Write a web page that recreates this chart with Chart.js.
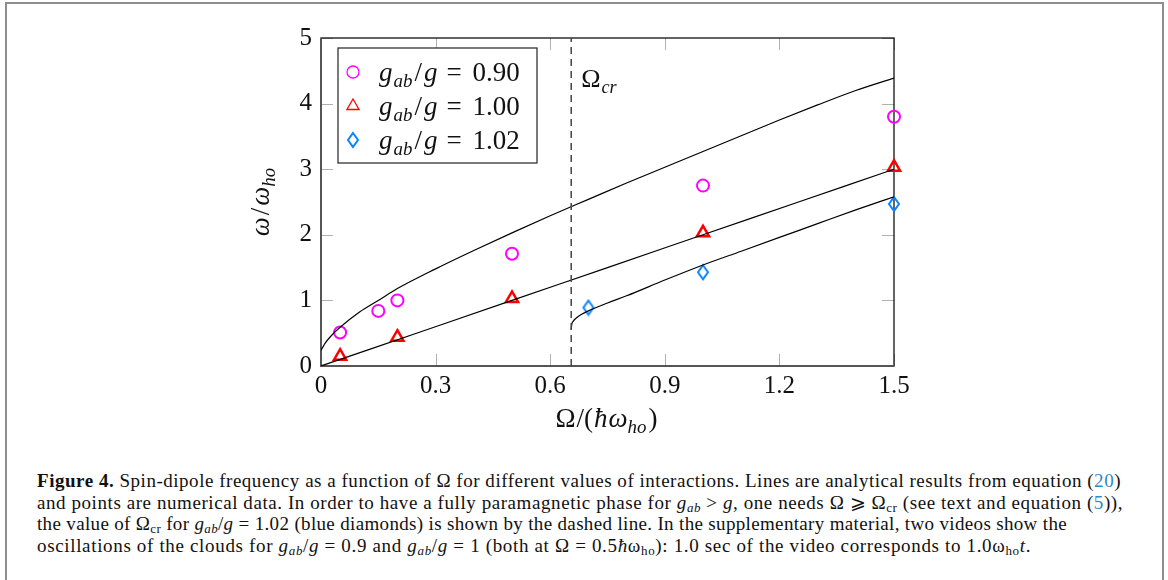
<!DOCTYPE html>
<html>
<head>
<meta charset="utf-8">
<script src="https://cdn.jsdelivr.net/npm/chart.js@4.4.1/dist/chart.umd.min.js"></script>
<style>
  html, body { margin: 0; padding: 0; background: #fff; }
  body { width: 1168px; height: 580px; position: relative; overflow: hidden; }
  #marco { position: absolute; left: 5px; top: 2px; width: 1155px; height: 600px; border: 2px solid #8e8e8e; border-bottom: none; }
  #grafico { position: absolute; left: 200px; top: 0; width: 720px; height: 450px; }
  #pie { position: absolute; left: 37px; top: 470px; font-family: "Liberation Serif", serif; font-size: 19px; color: #111; }
  #pie div { white-space: nowrap; height: 21.6px; line-height: 21.6px; }
  #pie span.linea { display: inline-block; }
  #pie .ref { color: #2a8bc7; }
  #pie i { font-style: italic; }
  #pie sub { font-size: 13px; vertical-align: -3px; line-height: 0; }
</style>
</head>
<body>
<div id="marco"></div>
<canvas id="grafico" width="720" height="450"></canvas>
<div id="pie">
  <div><span class="linea"><b>Figure 4.</b> Spin-dipole frequency as a function of Ω for different values of interactions. Lines are analytical results from equation (<span class="ref">20</span>)</span></div>
  <div><span class="linea">and points are numerical data. In order to have a fully paramagnetic phase for <i>g</i><sub><i>ab</i></sub> &gt; <i>g</i>, one needs Ω ⩾ Ω<sub>cr</sub> (see text and equation (<span class="ref">5</span>)),</span></div>
  <div><span class="linea">the value of Ω<sub>cr</sub> for <i>g</i><sub><i>ab</i></sub>/<i>g</i> = 1.02 (blue diamonds) is shown by the dashed line. In the supplementary material, two videos show the</span></div>
  <div><span class="linea">oscillations of the clouds for <i>g</i><sub><i>ab</i></sub>/<i>g</i> = 0.9 and <i>g</i><sub><i>ab</i></sub>/<i>g</i> = 1 (both at Ω = 0.5<i>ħ</i>ω<sub>ho</sub>): 1.0 sec of the video corresponds to 1.0ω<sub>ho</sub><i>t</i>.</span></div>
</div>
<script>
// ticks de los ejes
const ticksX = [0, 0.3, 0.6, 0.9, 1.2, 1.5];
const ticksY = [0, 1, 2, 3, 4, 5];

// curvas analiticas (leidas punto a punto)
const curvaX090 = [0, 0.005, 0.01, 0.025, 0.05, 0.1, 0.15, 0.2, 0.3, 0.4, 0.5, 0.6, 0.7, 0.8, 0.9, 1.0, 1.1, 1.2, 1.3, 1.4, 1.5];
const curvaY090 = [0.24, 0.29, 0.34, 0.45, 0.59, 0.82, 1.0, 1.18, 1.48, 1.76, 2.03, 2.29, 2.54, 2.79, 3.03, 3.27, 3.51, 3.75, 3.98, 4.2, 4.39];
const curvaX100 = [0, 0.25, 0.5, 0.75, 1.0, 1.25, 1.5];
const curvaY100 = [0, 0.5, 1.0, 1.5, 2.0, 2.5, 3.0];
const curvaX102 = [0.655, 0.656, 0.66, 0.67, 0.68, 0.7, 0.75, 0.8, 0.9, 1.0, 1.1, 1.2, 1.3, 1.4, 1.5];
const curvaY102 = [0.55, 0.62, 0.68, 0.74, 0.78, 0.84, 0.96, 1.07, 1.31, 1.54, 1.75, 1.96, 2.17, 2.38, 2.58];

// datos numericos
const omega090 = [0.05, 0.15, 0.2, 0.5, 1.0, 1.5];
const w090 = [0.51, 0.84, 1.0, 1.71, 2.75, 3.80];
const omega100 = [0.05, 0.2, 0.5, 1.0, 1.5];
const w100 = [0.15, 0.44, 1.03, 2.03, 3.03];
const omega102 = [0.7, 1.0, 1.5];
const w102 = [0.89, 1.43, 2.47];

// Omega critico para gab/g = 1.02
const omegaCr = 0.655;

const etiquetas = ["0.90", "1.00", "1.02"];

// anchos de cada renglon del pie de figura
const anchosPie = [1084, 1086, 1030, 994];

const FUENTE = '"Liberation Serif", serif';

const unir = (xs, ys) => xs.map((x, i) => ({ x: x, y: ys[i] }));

// estirar los renglones del pie hasta su ancho
document.querySelectorAll("#pie span.linea").forEach((s, i) => {
  const extra = anchosPie[i] - s.getBoundingClientRect().width;
  const n = s.textContent.length;
  s.style.letterSpacing = (extra / n) + "px";
});

// rombo alargado para 1.02
function hacerRombo(color) {
  const c = document.createElement("canvas");
  c.width = 14; c.height = 18;
  const g = c.getContext("2d");
  g.strokeStyle = color;
  g.lineWidth = 2;
  g.beginPath();
  g.moveTo(7, 2); g.lineTo(12, 9); g.lineTo(7, 16); g.lineTo(2, 9);
  g.closePath();
  g.stroke();
  return c;
}
const rombo = hacerRombo("#0a84ff");

// texto con subindices: [texto, cursiva, subindice] o un numero = espacio en px
function fuenteDe(it, sub, tam) {
  return (it ? "italic " : "") + (sub ? tam * 0.7 : tam) + "px " + FUENTE;
}
function anchoTrozos(ctx, trozos, tam) {
  let w = 0;
  trozos.forEach(tr => {
    if (typeof tr === "number") { w += tr; return; }
    ctx.font = fuenteDe(tr[1], tr[2], tam);
    w += ctx.measureText(tr[0]).width;
  });
  return w;
}
function textoTrozos(ctx, trozos, x, y, tam, alinear) {
  let cx = x;
  if (alinear === "center") cx = x - anchoTrozos(ctx, trozos, tam) / 2;
  ctx.textBaseline = "alphabetic";
  ctx.textAlign = "left";
  trozos.forEach(tr => {
    if (typeof tr === "number") { cx += tr; return; }
    const [t, it, sub] = tr;
    ctx.font = fuenteDe(it, sub, tam);
    ctx.fillText(t, cx, sub ? y + tam * 0.22 : y);
    cx += ctx.measureText(t).width;
  });
}

const marcoPlugin = {
  id: "marco",
  beforeDatasetsDraw(chart) {
    const ctx = chart.ctx;
    const a = chart.chartArea;
    const sx = chart.scales.x, sy = chart.scales.y;
    ctx.save();
    // ticks hacia adentro
    ctx.strokeStyle = "#b0b0b0";
    ctx.lineWidth = 1;
    ctx.beginPath();
    ticksX.forEach(v => {
      const px = Math.round(sx.getPixelForValue(v)) + 0.5;
      ctx.moveTo(px, a.bottom); ctx.lineTo(px, a.bottom - 12);
      ctx.moveTo(px, a.top); ctx.lineTo(px, a.top + 12);
    });
    ticksY.forEach(v => {
      const py = Math.round(sy.getPixelForValue(v)) + 0.5;
      ctx.moveTo(a.left, py); ctx.lineTo(a.left + 12, py);
      ctx.moveTo(a.right, py); ctx.lineTo(a.right - 12, py);
    });
    ctx.stroke();
    // marco
    ctx.strokeStyle = "#111";
    ctx.lineWidth = 1.3;
    ctx.strokeRect(a.left, a.top, a.right - a.left, a.bottom - a.top);
    ctx.strokeStyle = "#555";
    ctx.lineWidth = 2;
    ctx.beginPath();
    ctx.moveTo(a.left, a.top); ctx.lineTo(a.left, a.bottom); ctx.lineTo(a.right, a.bottom);
    ctx.stroke();
    ctx.restore();
  },
  afterDatasetsDraw(chart) {
    const ctx = chart.ctx;
    const a = chart.chartArea;
    const sx = chart.scales.x;
    ctx.save();
    ctx.fillStyle = "#111";
    // titulos de ejes
    textoTrozos(ctx, [["Ω", false, false], 1, ["/(", false, false], 1, ["ħ", true, false], 1, ["ω", true, false], ["ho", true, true], 2, [")", false, false]],
      (a.left + a.right) / 2 - 1, 427, 27, "center");
    ctx.save();
    ctx.translate(a.left - 52, (a.top + a.bottom) / 2);
    ctx.rotate(-Math.PI / 2);
    textoTrozos(ctx, [["ω", true, false], 2, ["/", false, false], 2, ["ω", true, false], ["ho", true, true]], 0, 0, 27, "center");
    ctx.restore();
    // etiqueta Omega_cr
    textoTrozos(ctx, [["Ω", false, false], 1, ["cr", true, true]], sx.getPixelForValue(omegaCr) + 10, 87, 26, "left");
    // leyenda
    const lx = 338 - 200, ly = 48, lw = 199, lh = 115;
    ctx.fillStyle = "#fff";
    ctx.fillRect(lx, ly, lw, lh);
    ctx.strokeStyle = "#333";
    ctx.lineWidth = 1.3;
    ctx.strokeRect(lx, ly, lw, lh);
    const filas = [72, 106, 140];
    chart.data.datasets.filter(d => d.enLeyenda).forEach((d, i) => {
      const y = filas[i];
      ctx.strokeStyle = d.borderColor;
      ctx.fillStyle = "rgba(0,0,0,0)";
      Chart.helpers.drawPoint(ctx, { pointStyle: d.pointStyle, radius: d.pointRadius, rotation: 0, borderWidth: d.borderWidth }, lx + 15, y);
      ctx.fillStyle = "#111";
      textoTrozos(ctx, [["g", true, false], 1, ["ab", true, true], 2, ["/", false, false], 2, ["g", true, false], 9, ["=", false, false], 11, [etiquetas[i], false, false]],
        lx + 41, y + 9, 27, "left");
    });
    ctx.restore();
  }
};

const curva = (xs, ys) => ({
  type: "line",
  data: unir(xs, ys),
  borderColor: "#000",
  borderWidth: 1.2,
  pointRadius: 0,
  cubicInterpolationMode: "monotone",
  fill: false
});

const grafica = document.getElementById("grafico");
const myChart = new Chart(grafica, {
  type: "scatter",
  data: {
    datasets: [
      {
        type: "line",
        data: [{ x: omegaCr, y: 0 }, { x: omegaCr, y: 5 }],
        borderColor: "#444",
        borderWidth: 1.5,
        borderDash: [7, 5],
        pointRadius: 0
      },
      curva(curvaX090, curvaY090),
      curva(curvaX100, curvaY100),
      curva(curvaX102, curvaY102),
      {
        enLeyenda: true,
        data: unir(omega090, w090),
        pointStyle: "circle",
        pointRadius: 6,
        borderWidth: 2,
        borderColor: "#ff00ff",
        backgroundColor: "rgba(0,0,0,0)",
        clip: false
      },
      {
        enLeyenda: true,
        data: unir(omega100, w100),
        pointStyle: "triangle",
        pointRadius: 7,
        borderWidth: 2.5,
        borderColor: "#ff0000",
        backgroundColor: "rgba(0,0,0,0)",
        clip: false
      },
      {
        enLeyenda: true,
        data: unir(omega102, w102),
        pointStyle: rombo,
        pointRadius: 7,
        borderWidth: 2,
        borderColor: "#0a84ff",
        backgroundColor: "rgba(0,0,0,0)",
        clip: false
      }
    ]
  },
  options: {
    responsive: false,
    animation: false,
    devicePixelRatio: 1,
    layout: { padding: { left: 0, top: 38, right: 26, bottom: 0 } },
    plugins: { legend: { display: false }, tooltip: { enabled: false } },
    scales: {
      x: {
        type: "linear",
        min: 0,
        max: 1.5,
        grid: { display: false, drawTicks: false },
        border: { display: false },
        afterBuildTicks: (s) => { s.ticks = ticksX.map(v => ({ value: v })); },
        afterFit: (s) => { s.height = 84; },
        ticks: {
          padding: 5,
          color: "#111",
          font: { family: FUENTE, size: 25 },
          callback: (v) => (v === 0 ? "0" : v.toFixed(1))
        }
      },
      y: {
        min: 0,
        max: 5,
        grid: { display: false, drawTicks: false },
        border: { display: false },
        afterBuildTicks: (s) => { s.ticks = ticksY.map(v => ({ value: v })); },
        afterFit: (s) => { s.width = 121; },
        ticks: {
          padding: 9,
          color: "#111",
          font: { family: FUENTE, size: 25 }
        }
      }
    }
  },
  plugins: [marcoPlugin]
});
</script>
</body>
</html>
